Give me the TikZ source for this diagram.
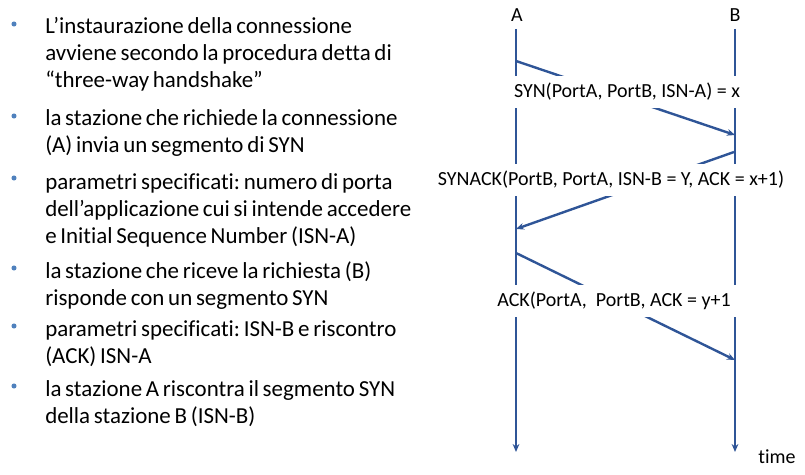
\documentclass[tikz,border=0pt]{standalone}
\usepackage{fontspec}
\setmainfont{Carlito}[Ligatures=NoCommon]
\usetikzlibrary{arrows.meta}
\definecolor{linea}{RGB}{47,85,151}
\definecolor{punto}{RGB}{79,129,189}
\newcommand\spazistretti{\frenchspacing\spaceskip=2.8pt plus 0.5pt minus 0.5pt\relax}
\tikzset{
  voce/.style={anchor=base west,inner sep=0pt,text width=320pt,align=left,
    font=\fontsize{17.2}{20.25}\selectfont},
  pallino/.style={circle,fill=punto,inner sep=0pt,minimum size=3.8pt},
  tempo/.style={linea,line width=1.8pt,-{Stealth[length=6pt,width=5pt]}},
  msg/.style={linea,line width=1.8pt,-{Stealth[length=6pt,width=5pt]}},
  etichetta/.style={fill=white,inner xsep=5pt,inner ysep=0pt,minimum height=24pt,
    font=\fontsize{15}{18}\selectfont},
}
\begin{document}
\begin{tikzpicture}[x=0.75pt,y=-0.75pt]
\useasboundingbox (0,0) rectangle (805,474);
% elenco puntato
\node[voce] (v1) at (45,34) {\spazistretti L’instaurazione della connessione\\avviene secondo la procedura detta di\\“three-way handshake”};
\node[voce] (v2) at (45,126) {\spazistretti la stazione che richiede la connessione\\(A) invia un segmento di SYN};
\node[voce] (v3) at (45,189) {\spazistretti parametri specificati: numero di porta\\dell’applicazione cui si intende accedere\\e Initial Sequence Number (ISN-A)};
\node[voce] (v4) at (45,278) {\spazistretti la stazione che riceve la richiesta (B)\\risponde con un segmento SYN};
\node[voce] (v5) at (45,336) {\spazistretti parametri specificati: ISN-B e riscontro\\(ACK) ISN-A};
\node[voce] (v6) at (45,396) {\spazistretti la stazione A riscontra il segmento SYN\\della stazione B (ISN-B)};
\node[pallino] (p1) at (14,24) {};
\node[pallino] (p2) at (14,116) {};
\node[pallino] (p3) at (14,178) {};
\node[pallino] (p4) at (14,268) {};
\node[pallino] (p5) at (14,326) {};
\node[pallino] (p6) at (14,386) {};
% stazioni e assi dei tempi
\node[font=\fontsize{15}{18}\selectfont] (A) at (517,15) {A};
\node[font=\fontsize{15}{18}\selectfont] (B) at (735,15) {B};
\coordinate (A0) at (516,29);
\coordinate (A1) at (516,452);
\coordinate (B0) at (735,29);
\coordinate (B1) at (735,452);
\draw[tempo] (A0) -- (A1);
\draw[tempo] (B0) -- (B1);
\node[font=\fontsize{15}{18}\selectfont] (time) at (777,457) {time};
% segmenti
\coordinate (syn0) at (516,61);
\coordinate (syn1) at (735,135);
\coordinate (synack0) at (734,152);
\coordinate (synack1) at (516,229);
\coordinate (ack0) at (516,253);
\coordinate (ack1) at (735,360);
\draw[msg] (syn0) -- (syn1);
\draw[msg] (synack0) -- (synack1);
\draw[msg] (ack0) -- (ack1);
\node[etichetta] (lsyn) at (627,92) {SYN(PortA, PortB, ISN-A) = x};
\node[etichetta] (lsynack) at (611,180) {SYNACK(PortB, PortA, ISN-B = Y, ACK = x+1)};
\node[etichetta] (lack) at (614,301) {ACK(PortA,\ \ PortB, ACK = y+1};
\end{tikzpicture}
\end{document}
